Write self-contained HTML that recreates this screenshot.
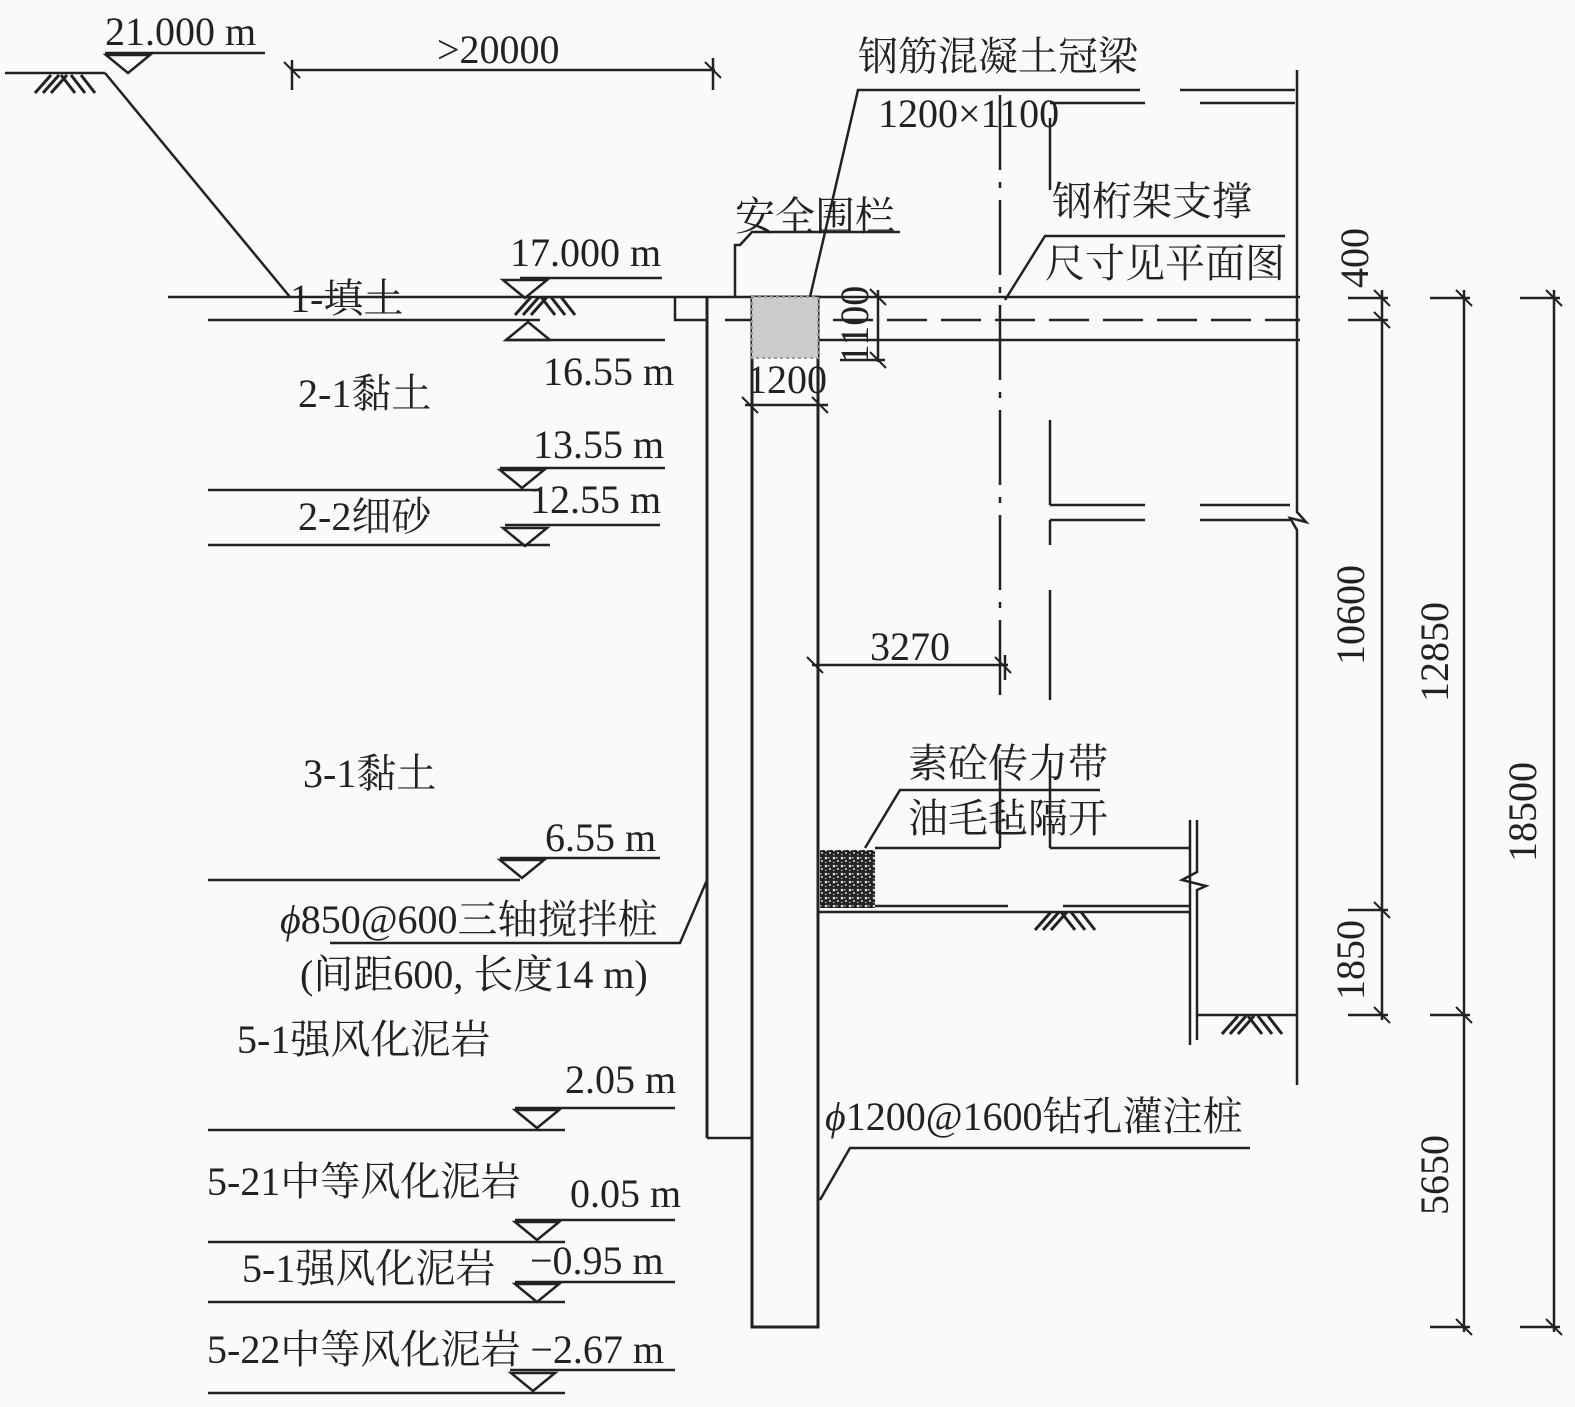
<!DOCTYPE html>
<html><head><meta charset="utf-8"><style>
html,body{margin:0;padding:0;background:#fafafa}
svg{display:block}
text{font-family:"Liberation Serif","Noto Serif CJK SC",serif;font-size:40px;fill:#222}
</style></head><body>
<svg width="1575" height="1407" viewBox="0 0 1575 1407" xmlns="http://www.w3.org/2000/svg">
<defs>
<g id="h" stroke="#222" stroke-width="3" fill="none">
<line x1="0" y1="18" x2="16" y2="0"/><line x1="8" y1="18" x2="24" y2="0"/><line x1="16" y1="18" x2="32" y2="0"/>
<line x1="26" y1="0" x2="40" y2="18"/><line x1="36" y1="0" x2="50" y2="18"/><line x1="46" y1="0" x2="60" y2="18"/>
</g>
<g id="td" stroke="#222" stroke-width="2.5" fill="none"><path d="M-22 0 L22 0 L0 18 Z"/></g>
<g id="tu" stroke="#222" stroke-width="2.5" fill="none"><path d="M-22 0 L22 0 L0 -18 Z"/></g>
<g id="tk" stroke="#222" stroke-width="2"><line x1="-8" y1="-8" x2="8" y2="8"/></g>
<pattern id="conc" width="8" height="8" patternUnits="userSpaceOnUse"><rect width="8" height="8" fill="#222"/><circle cx="2" cy="2" r="1.3" fill="#ddd"/><circle cx="6" cy="5" r="1" fill="#ddd"/><rect x="4" y="1" width="1.5" height="1.5" fill="#bbb"/><rect x="1" y="6" width="1.5" height="1" fill="#ccc"/></pattern>
</defs>
<g stroke="#222" stroke-width="2.5" fill="none">
<line x1="5" y1="73" x2="105" y2="73"/>
<line x1="105" y1="73" x2="290" y2="297"/>
<line x1="105" y1="53" x2="265" y2="53"/>
<line x1="292" y1="70" x2="715" y2="70"/>
<line x1="292" y1="60" x2="292" y2="90"/><line x1="713" y1="58" x2="713" y2="90"/>
<line x1="168" y1="297" x2="1300" y2="297"/>
<line x1="208" y1="320" x2="540" y2="320"/>
<line x1="520" y1="278" x2="662" y2="278"/>
<line x1="505" y1="340" x2="665" y2="340"/>
<polyline points="675,297 675,320 707,320"/>
<line x1="707" y1="297" x2="707" y2="1138" stroke-width="3"/>
<line x1="707" y1="1138" x2="752" y2="1138"/>
<rect x="752" y="297" width="66" height="1030" stroke-width="3"/>
<polyline points="735,297 735,245 740,245 752,232 900,232"/>
<line x1="818" y1="340" x2="1300" y2="340"/>
<line x1="725" y1="320" x2="1300" y2="320" stroke-dasharray="40,14"/>
<polyline points="810,297 858,90 1140,90"/>
<line x1="1180" y1="90" x2="1295" y2="90"/>
<line x1="1050" y1="103" x2="1145" y2="103"/><line x1="1200" y1="103" x2="1295" y2="103"/>
<line x1="1000" y1="95" x2="1000" y2="700" stroke-dasharray="75,12,6,12"/>
<line x1="1050" y1="118" x2="1050" y2="190"/>
<line x1="1050" y1="420" x2="1050" y2="505"/>
<line x1="1050" y1="590" x2="1050" y2="700"/>
<line x1="1050" y1="520" x2="1050" y2="545"/>
<line x1="1050" y1="505" x2="1145" y2="505"/><line x1="1200" y1="505" x2="1290" y2="505"/>
<line x1="1050" y1="520" x2="1145" y2="520"/><line x1="1200" y1="520" x2="1290" y2="520"/>
<polyline points="1297,70 1297,512 1306,522 1290,518 1297,530 1297,1085"/>
<polyline points="1005,300 1045,236 1285,236"/>
<line x1="878" y1="290" x2="878" y2="362"/>
<line x1="840" y1="360" x2="885" y2="360"/>
<line x1="745" y1="405" x2="828" y2="405"/>
<line x1="812" y1="665" x2="1008" y2="665"/>
<line x1="1005" y1="655" x2="1005" y2="680"/>
<line x1="1382" y1="290" x2="1382" y2="1020"/>
<line x1="1464" y1="290" x2="1464" y2="1332"/>
<line x1="1554" y1="290" x2="1554" y2="1332"/>
<line x1="1348" y1="298" x2="1388" y2="298"/><line x1="1348" y1="320" x2="1388" y2="320"/>
<line x1="1348" y1="910" x2="1388" y2="910"/><line x1="1348" y1="1015" x2="1388" y2="1015"/>
<line x1="1430" y1="298" x2="1470" y2="298"/><line x1="1430" y1="1015" x2="1470" y2="1015"/><line x1="1430" y1="1327" x2="1470" y2="1327"/>
<line x1="1520" y1="298" x2="1560" y2="298"/><line x1="1520" y1="1327" x2="1560" y2="1327"/>
<polyline points="865,848 900,790 1100,790"/>
<line x1="875" y1="848" x2="1000" y2="848"/><line x1="1050" y1="848" x2="1190" y2="848"/>
<line x1="1000" y1="760" x2="1000" y2="848"/><line x1="1050" y1="760" x2="1050" y2="848"/>
<line x1="875" y1="906" x2="1008" y2="906"/><line x1="1063" y1="906" x2="1190" y2="906"/>
<line x1="818" y1="912" x2="1190" y2="912"/>
<line x1="1190" y1="820" x2="1190" y2="1045"/>
<polyline points="1197,820 1197,872 1182,880 1206,886 1197,890 1197,1040"/>
<line x1="1197" y1="1015" x2="1297" y2="1015"/>
<line x1="500" y1="468" x2="665" y2="468"/><line x1="208" y1="490" x2="540" y2="490"/>
<line x1="505" y1="525" x2="660" y2="525"/><line x1="208" y1="545" x2="550" y2="545"/>
<line x1="500" y1="858" x2="660" y2="858"/><line x1="208" y1="880" x2="520" y2="880"/>
<polyline points="330,943 680,943 707,880"/>
<line x1="515" y1="1108" x2="675" y2="1108"/><line x1="208" y1="1130" x2="565" y2="1130"/>
<line x1="515" y1="1220" x2="675" y2="1220"/><line x1="208" y1="1242" x2="565" y2="1242"/>
<line x1="515" y1="1282" x2="675" y2="1282"/><line x1="208" y1="1302" x2="565" y2="1302"/>
<line x1="510" y1="1370" x2="675" y2="1370"/><line x1="208" y1="1393" x2="565" y2="1393"/>
<polyline points="820,1200 850,1148 1250,1148"/>
</g>
<rect x="752" y="297" width="66" height="61" fill="#ccc" stroke="#999" stroke-width="2" stroke-dasharray="3,3"/>
<rect x="820" y="850" width="55" height="58" fill="url(#conc)"/>
<use href="#h" x="35" y="75"/><use href="#h" x="515" y="297"/><use href="#h" x="1035" y="912"/><use href="#h" x="1222" y="1016"/>
<use href="#td" x="128" y="55"/>
<use href="#td" x="525" y="280"/><use href="#tu" x="528" y="340"/>
<use href="#td" x="522" y="470"/><use href="#td" x="525" y="528"/><use href="#td" x="522" y="860"/>
<use href="#td" x="537" y="1110"/><use href="#td" x="537" y="1222"/><use href="#td" x="537" y="1284"/><use href="#td" x="533" y="1373"/>
<use href="#tk" x="292" y="70"/><use href="#tk" x="713" y="70"/>
<use href="#tk" x="878" y="297"/><use href="#tk" x="878" y="360"/>
<use href="#tk" x="750" y="405"/><use href="#tk" x="820" y="405"/>
<use href="#tk" x="815" y="665"/><use href="#tk" x="1003" y="665"/>
<use href="#tk" x="1382" y="298"/><use href="#tk" x="1382" y="320"/><use href="#tk" x="1382" y="910"/><use href="#tk" x="1382" y="1015"/>
<use href="#tk" x="1464" y="298"/><use href="#tk" x="1464" y="1015"/><use href="#tk" x="1464" y="1327"/>
<use href="#tk" x="1554" y="298"/><use href="#tk" x="1554" y="1327"/>
<text x="105" y="45">21.000 m</text>
<text x="437" y="63">&gt;20000</text>
<text x="858" y="70">钢筋混凝土冠梁</text>
<text x="878" y="127">1200×1100</text>
<text x="735" y="230">安全围栏</text>
<text x="1052" y="215">钢桁架支撑</text>
<text x="1045" y="277">尺寸见平面图</text>
<text x="510" y="266">17.000 m</text>
<text x="290" y="312">1-填土</text>
<text x="543" y="385">16.55 m</text>
<text x="298" y="407">2-1黏土</text>
<text x="747" y="393">1200</text>
<text x="533" y="458">13.55 m</text>
<text x="530" y="513">12.55 m</text>
<text x="298" y="530">2-2细砂</text>
<text x="870" y="660">3270</text>
<text x="908" y="777">素砼传力带</text>
<text x="303" y="787">3-1黏土</text>
<text x="908" y="832">油毛毡隔开</text>
<text x="545" y="851">6.55 m</text>
<text x="280" y="933"><tspan font-style="italic">ϕ</tspan>850@600三轴搅拌桩</text>
<text x="300" y="988">(间距600, 长度14 m)</text>
<text x="237" y="1053">5-1强风化泥岩</text>
<text x="565" y="1093">2.05 m</text>
<text x="825" y="1130"><tspan font-style="italic">ϕ</tspan>1200@1600钻孔灌注桩</text>
<text x="207" y="1195">5-21中等风化泥岩</text>
<text x="570" y="1207">0.05 m</text>
<text x="530" y="1274">−0.95 m</text>
<text x="242" y="1282">5-1强风化泥岩</text>
<text x="207" y="1363">5-22中等风化泥岩 −2.67 m</text>
<g text-anchor="middle">
<text transform="translate(868,325) rotate(-90)">1100</text>
<text transform="translate(1368,258) rotate(-90)">400</text>
<text transform="translate(1364,615) rotate(-90)">10600</text>
<text transform="translate(1364,960) rotate(-90)">1850</text>
<text transform="translate(1448,652) rotate(-90)">12850</text>
<text transform="translate(1448,1175) rotate(-90)">5650</text>
<text transform="translate(1536,812) rotate(-90)">18500</text>
</g>
</svg>
</body></html>
